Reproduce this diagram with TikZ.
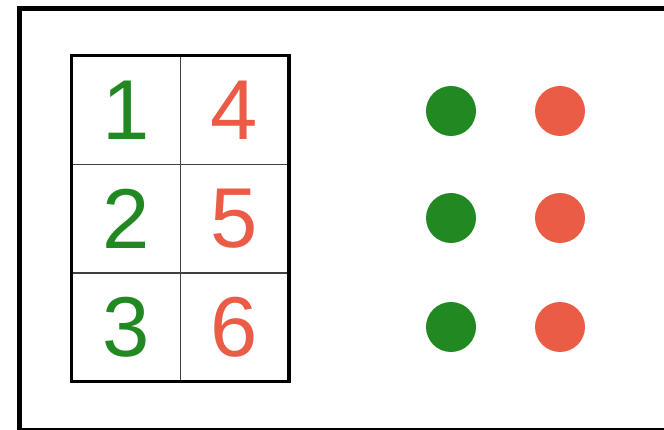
\documentclass[tikz,border=0pt]{standalone}
\usepackage{fontspec}
\setmainfont{Liberation Sans}
\usetikzlibrary{positioning}
\definecolor{leafgreen}{RGB}{34,136,34}
\definecolor{coralred}{RGB}{234,92,70}
\tikzset{
  cell/.style={rectangle,draw=black!75,line width=0.6pt,minimum width=108pt,minimum height=108pt,inner sep=0pt,font=\fontsize{85}{85}\selectfont},
  greencell/.style={cell,text=leafgreen},
  redcell/.style={cell,text=coralred},
  dot/.style={circle,minimum size=50pt,inner sep=0pt},
  greendot/.style={dot,fill=leafgreen},
  reddot/.style={dot,fill=coralred},
  frame/.style={draw=black,line width=5pt}
}
\begin{document}
\begin{tikzpicture}[x=1pt,y=-1pt,node distance=0pt]
  \useasboundingbox (0,0) rectangle (664,430);
  \draw[frame] (19,9) rectangle (680,430.5);
  % number grid
  \node[greencell] (c1) at (126,110) {1};
  \node[greencell,below=of c1] (c2) {2};
  \node[greencell,below=of c2] (c3) {3};
  \node[redcell,right=of c1] (c4) {4};
  \node[redcell,below=of c4] (c5) {5};
  \node[redcell,below=of c5] (c6) {6};
  \draw[line width=3.5pt] (c1.north west) rectangle (c6.south east);
  % dots
  \node[greendot] (g1) at (451,111) {};
  \node[greendot] (g2) at (451,218) {};
  \node[greendot] (g3) at (451,327) {};
  \node[reddot] (r1) at (560,111) {};
  \node[reddot] (r2) at (560,218) {};
  \node[reddot] (r3) at (560,327) {};
\end{tikzpicture}
\end{document}
